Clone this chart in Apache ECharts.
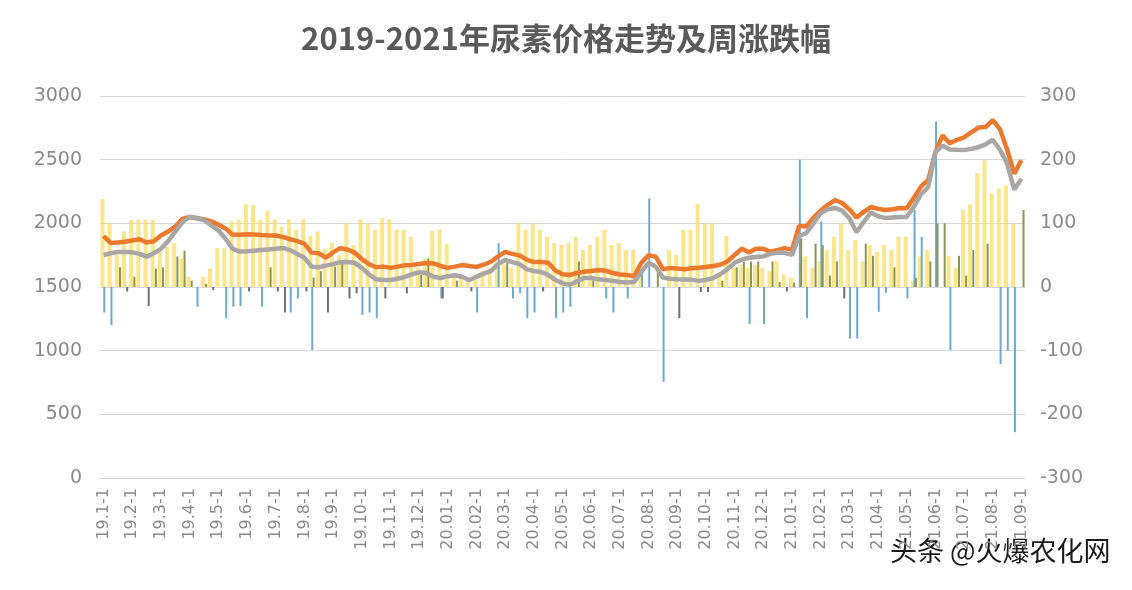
<!DOCTYPE html>
<html>
<head>
<meta charset="utf-8">
<script src="https://cdn.jsdelivr.net/npm/echarts@6/dist/echarts.min.js"></script>
<style>html,body{margin:0;padding:0;background:#fff}#c{width:1132px;height:590px}</style>
</head>
<body>
<div id="c"></div>
<script>
// Month tick labels (first week of each month shown on the axis)
const monthLabels = ["19.1","19.2","19.3","19.4","19.5","19.6","19.7","19.8","19.9","19.10","19.11","19.12",
  "20.01","20.02","20.03","20.04","20.05","20.06","20.07","20.08","20.09","20.10","20.11","20.12",
  "21.01","21.02","21.03","21.04","21.05","21.06","21.07","21.08","21.09"];
const weeksPerMonth = [4,4,4,4,4,4,4,4,4,4,4,4,4,4,4,4,4,4,4,4,4,4,4,4,4,4,4,4,4,4,4,4,1];

// Price series (left axis, 元/吨)
const priceA = [1900,1845,1850,1855,1865,1875,1850,1860,1905,1935,1975,2035,2050,2042,2030,2015,1990,1960,1910,1910,
  1915,1912,1908,1905,1905,1893,1875,1860,1840,1770,1765,1730,1772,1805,1795,1770,1720,1680,1655,1660,
  1650,1660,1670,1673,1680,1688,1685,1665,1650,1660,1672,1665,1657,1675,1698,1740,1775,1760,1748,1715,
  1696,1696,1690,1630,1600,1594,1610,1620,1625,1633,1628,1610,1598,1594,1585,1690,1750,1738,1640,1650,
  1645,1640,1648,1652,1657,1665,1675,1700,1751,1800,1772,1800,1800,1778,1790,1805,1792,1980,1975,2045,
  2100,2145,2183,2160,2110,2045,2090,2128,2115,2105,2110,2120,2118,2200,2290,2340,2560,2690,2630,2655,
  2675,2715,2752,2756,2810,2740,2580,2390,2495];
const priceB = [1750,1765,1775,1775,1772,1760,1738,1765,1800,1860,1935,2010,2050,2040,2025,1985,1945,1880,1800,1778,
  1780,1785,1790,1795,1800,1806,1790,1760,1730,1660,1655,1668,1680,1695,1696,1690,1650,1600,1560,1555,
  1555,1565,1580,1600,1615,1610,1580,1570,1585,1592,1580,1555,1580,1605,1625,1680,1712,1695,1680,1640,
  1625,1618,1595,1555,1530,1518,1545,1571,1571,1560,1555,1548,1540,1535,1540,1620,1690,1660,1575,1565,
  1560,1558,1556,1548,1555,1570,1600,1640,1690,1715,1730,1735,1740,1760,1770,1768,1752,1900,1924,2000,
  2080,2110,2120,2100,2040,1930,2010,2085,2055,2042,2046,2050,2050,2130,2230,2285,2560,2610,2580,2577,
  2575,2585,2598,2620,2655,2580,2470,2265,2350];

// Weekly change bars (right axis)
const changeYellow = [138,100,50,87,105,106,106,105,55,63,69,45,16,0,16,29,61,61,103,105,
  130,129,106,120,106,95,106,90,106,80,87,60,70,50,100,66,106,100,90,108,
  106,90,90,79,30,45,88,90,68,20,15,10,20,25,30,40,35,30,100,90,
  100,90,79,69,66,69,79,58,66,79,90,66,69,58,58,20,0,0,0,58,
  50,90,90,130,100,100,20,80,30,35,30,35,30,25,40,20,15,0,48,30,
  40,58,79,100,58,74,40,66,55,66,58,79,79,10,48,58,0,0,49,30,
  121,130,179,199,147,155,159,100,0];
const changeBlue = [-40,-60,0,0,0,0,0,0,0,0,0,0,0,-31,0,0,0,-49,-31,-30,
  0,0,-31,0,0,0,-40,-18,0,-99,0,0,0,0,0,0,-44,-40,-49,0,
  0,0,0,0,0,0,0,-18,0,0,0,0,-40,0,0,69,0,-18,-10,-49,
  -40,0,0,-49,-40,-31,0,0,0,0,-18,-40,0,-18,0,24,139,0,-149,0,
  0,0,0,0,0,0,0,0,0,0,-58,0,-58,0,0,0,0,200,-49,0,
  103,0,0,0,-81,-81,0,0,-39,-9,0,0,-18,121,79,0,260,0,-99,0,
  0,0,0,0,0,-121,-100,-228,0];
const changeOlive = [0,0,31,-7,16,0,-30,29,31,0,48,57,10,0,5,-5,0,0,0,0,
  -7,0,0,31,-7,-40,0,0,-7,15,25,-40,32,42,-18,-10,0,0,0,-18,
  0,0,-10,0,19,45,0,-18,0,10,0,-7,0,0,0,0,42,0,0,0,
  0,-7,0,0,0,0,40,0,10,0,0,0,0,0,0,0,0,29,0,0,
  -49,0,0,-8,-8,0,10,0,31,40,40,40,0,40,8,-7,7,76,0,68,
  66,18,40,-18,0,0,68,49,0,0,31,0,0,14,0,40,100,100,0,49,
  18,58,0,68,0,0,0,0,121];

const categories = [];
monthLabels.forEach((m, k) => { for (let w = 1; w <= weeksPerMonth[k]; w++) categories.push(m + '-' + w); });

const chart = echarts.init(document.getElementById('c'), null, {renderer: 'canvas'});
const fontCJK = '"Noto Sans CJK SC", "Noto Sans", sans-serif';
chart.setOption({
  animation: false,
  backgroundColor: '#ffffff',
  title: {
    text: '2019-2021年尿素价格走势及周涨跌幅',
    left: 'center', top: 18,
    textStyle: {fontFamily: fontCJK, fontSize: 31, fontWeight: 'bold', color: '#5a5a5a'}
  },
  grid: {left: 100, right: 107, top: 96, bottom: 112, containLabel: false},
  xAxis: {
    type: 'category', data: categories, boundaryGap: true,
    axisLine: {show: false}, axisTick: {show: false},
    axisLabel: {interval: 3, rotate: 90, color: '#8a8a8a', fontSize: 16, margin: 10,
      fontFamily: 'DejaVu Sans, sans-serif'}
  },
  yAxis: [{
    type: 'value', min: 0, max: 3000, interval: 500,
    axisLine: {show: false}, axisTick: {show: false},
    axisLabel: {color: '#8a8a8a', fontSize: 19, margin: 18, fontFamily: 'DejaVu Sans, sans-serif',
      formatter: v => String(v)},
    splitLine: {lineStyle: {color: '#d9d9d9', width: 1}}
  }, {
    type: 'value', min: -300, max: 300, interval: 100,
    axisLine: {show: false}, axisTick: {show: false},
    axisLabel: {color: '#8a8a8a', fontSize: 19, margin: 15, fontFamily: 'DejaVu Sans, sans-serif',
      formatter: v => String(v)},
    splitLine: {show: false}
  }],
  series: [{
    name: '涨跌A', type: 'bar', yAxisIndex: 1, data: changeYellow, barWidth: 4, barGap: '-30%',
    itemStyle: {color: 'rgba(248,222,100,0.75)'}
  }, {
    name: '涨跌B', type: 'bar', yAxisIndex: 1, data: changeBlue, barWidth: 2,
    itemStyle: {color: '#6fa9d2'}
  }, {
    name: '涨跌C', type: 'bar', yAxisIndex: 1, data: changeOlive, barWidth: 2,
    itemStyle: {color: p => p.value >= 0 ? '#8b9655' : '#707070'}
  }, {
    name: '价格A', type: 'line', yAxisIndex: 0, data: priceA, symbol: 'none',
    lineStyle: {color: '#ec7a2e', width: 4.5}
  }, {
    name: '价格B', type: 'line', yAxisIndex: 0, data: priceB, symbol: 'none',
    lineStyle: {color: '#a9a6a4', width: 4.5}
  }],
  graphic: [{
    type: 'text', right: 20, top: 536,
    style: {text: '头条 @火爆农化网', fontFamily: fontCJK, fontSize: 27, fill: '#1a1a1a',
      stroke: '#ffffff', lineWidth: 3}
  }]
});
</script>
</body>
</html>
